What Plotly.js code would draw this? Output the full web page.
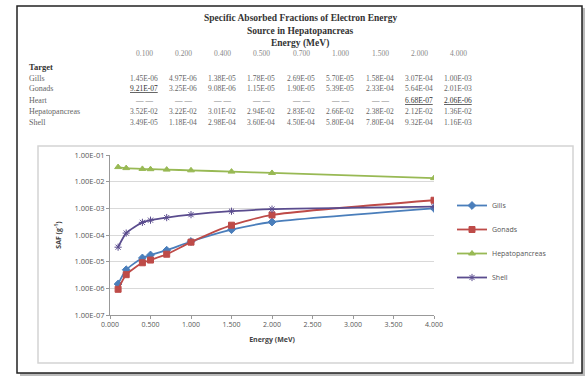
<!DOCTYPE html>
<html><head><meta charset="utf-8">
<script src="https://cdn.plot.ly/plotly-3.0.1.min.js"></script>
<style>html,body{margin:0;padding:0;background:#fff;}#chart{width:587px;height:376px;}</style>
</head><body><div id="chart"></div>
<script>
// ---- data ----
const energyLabels = ["0.100","0.200","0.400","0.500","0.700","1.000","1.500","2.000","4.000"];
const rowNames = ["Gills","Gonads","Heart","Hepatopancreas","Shell"];
const gills  = ["1.45E-06","4.97E-06","1.38E-05","1.78E-05","2.69E-05","5.70E-05","1.58E-04","3.07E-04","1.00E-03"];
const gonads = ["9.21E-07","3.25E-06","9.08E-06","1.15E-05","1.90E-05","5.39E-05","2.33E-04","5.64E-04","2.01E-03"];
const heart  = ["— —","— —","— —","— —","— —","— —","— —","6.68E-07","2.06E-06"];
const hepato = ["3.52E-02","3.22E-02","3.01E-02","2.94E-02","2.83E-02","2.66E-02","2.38E-02","2.12E-02","1.36E-02"];
const shell  = ["3.49E-05","1.18E-04","2.98E-04","3.60E-04","4.50E-04","5.80E-04","7.80E-04","9.32E-04","1.16E-03"];
const underlined = [[1,0],[2,7],[2,8]];
const yTickVals = [1e-7,1e-6,1e-5,1e-4,1e-3,1e-2,1e-1];
const yTickText = ["1.00E-07","1.00E-06","1.00E-05","1.00E-04","1.00E-03","1.00E-02","1.00E-01"];

// ---- layout geometry ----
const W=587,H=376, ml=110, mr=153, mt=155, mb=61;
const pw=W-ml-mr, ph=H-mt-mb;
const px=x=>(x-ml)/pw, py=y=>(H-mb-y)/ph;

const energies = energyLabels.map(Number);
const num = a => a.map(Number);
const series = [
  {name:"Gills", y:num(gills), color:"#4A7EBB", symbol:"diamond", size:6},
  {name:"Gonads", y:num(gonads), color:"#BE4B48", symbol:"square", size:6},
  {name:"Hepatopancreas", y:num(hepato), color:"#98B954", symbol:"triangle-up", size:6},
  {name:"Shell", y:num(shell), color:"#5A4C8E", symbol:"asterisk-open", size:6}
];
const traces = series.map((s,i)=>({
  x:energies, y:s.y, name:s.name, type:"scatter", mode:"lines+markers",
  line:{color:s.color,width:1.8,shape:"spline",smoothing:0.6},
  marker:{symbol:s.symbol,size:s.size,color:s.color,line:{color:s.color,width:1}},
  legendgroup:"g"+i
}));

const serif = "Liberation Serif, DejaVu Serif, serif";
const ann = [];
const title = ["Specific Absorbed Fractions of Electron Energy","Source in Hepatopancreas","Energy (MeV)"];
const titleY=[18,31,43];
title.forEach((t,i)=>ann.push({text:"<b>"+t+"</b>",x:px(300),y:py(titleY[i]),xref:"paper",yref:"paper",showarrow:false,xanchor:"center",yanchor:"middle",font:{family:serif,size:9.5,color:"#333"}}));
const colX=[144,183,222,261,301,340,380,419,458];
energyLabels.forEach((t,i)=>ann.push({text:t,x:px(colX[i]),y:py(54),xref:"paper",yref:"paper",showarrow:false,xanchor:"center",yanchor:"middle",font:{family:serif,size:7.5,color:"#888"}}));
ann.push({text:"<b>Target</b>",x:px(27),y:py(67),xref:"paper",yref:"paper",showarrow:false,xanchor:"left",yanchor:"middle",font:{family:serif,size:8.5,color:"#333"}});
const rows=[gills,gonads,heart,hepato,shell];
const rowY=[78,89,100,111,122];
rows.forEach((r,ri)=>{
  ann.push({text:rowNames[ri],x:px(27),y:py(rowY[ri]),xref:"paper",yref:"paper",showarrow:false,xanchor:"left",yanchor:"middle",font:{family:serif,size:8,color:"#666"}});
  r.forEach((v,ci)=>{
    const u = underlined.some(p=>p[0]===ri&&p[1]===ci);
    ann.push({text:u?"<u>"+v+"</u>":v,x:px(colX[ci]),y:py(rowY[ri]),xref:"paper",yref:"paper",showarrow:false,xanchor:"center",yanchor:"middle",font:{family:serif,size:7.5,color:u?"#333":"#666"}});
  });
});

const shapes=[
  {type:"rect",xref:"paper",yref:"paper",x0:px(20),x1:px(585),y0:py(8),y1:py(376),fillcolor:"#bbb",line:{width:0},layer:"below"},
  {type:"rect",xref:"paper",yref:"paper",x0:px(17),x1:px(582),y0:py(6),y1:py(373),fillcolor:"#fff",line:{color:"#222",width:1.5},layer:"below"},
  {type:"rect",xref:"paper",yref:"paper",x0:px(38),x1:px(573),y0:py(146),y1:py(363),fillcolor:"rgba(0,0,0,0)",line:{color:"#d4d4d4",width:1.5},layer:"below"}
];

const layout={
  width:W,height:H,margin:{l:ml,r:mr,t:mt,b:mb},
  paper_bgcolor:"#fff",plot_bgcolor:"rgba(0,0,0,0)",
  font:{family:"Open Sans, sans-serif",size:7,color:"#444"},
  showlegend:true,
  legend:{x:px(452),y:py(191),xanchor:"left",yanchor:"top",traceorder:"grouped",tracegroupgap:5,font:{size:7,color:"#555"},itemwidth:30,bgcolor:"rgba(0,0,0,0)"},
  xaxis:{range:[0,4],dtick:0.5,tick0:0,tickformat:".3f",showgrid:false,zeroline:false,showline:true,linecolor:"#999",linewidth:1,ticks:"outside",ticklen:3,tickcolor:"#999",
    title:{text:"<b>Energy (MeV)</b>",font:{size:7,color:"#444"},standoff:8},tickfont:{size:7,color:"#555"}},
  yaxis:{type:"log",range:[-7,-1],tickvals:yTickVals,ticktext:yTickText,showgrid:true,gridcolor:"#d9d9d9",gridwidth:1,zeroline:false,showline:true,linecolor:"#999",linewidth:1,ticks:"outside",ticklen:3,tickcolor:"#999",
    title:{text:"<b>SAF (g<sup>-1</sup>)</b>",font:{size:7,color:"#444"},standoff:12},tickfont:{size:7.5,color:"#555"}},
  annotations:ann,shapes:shapes
};
Plotly.newPlot("chart",traces,layout,{displayModeBar:false,staticPlot:true});
</script></body></html>
